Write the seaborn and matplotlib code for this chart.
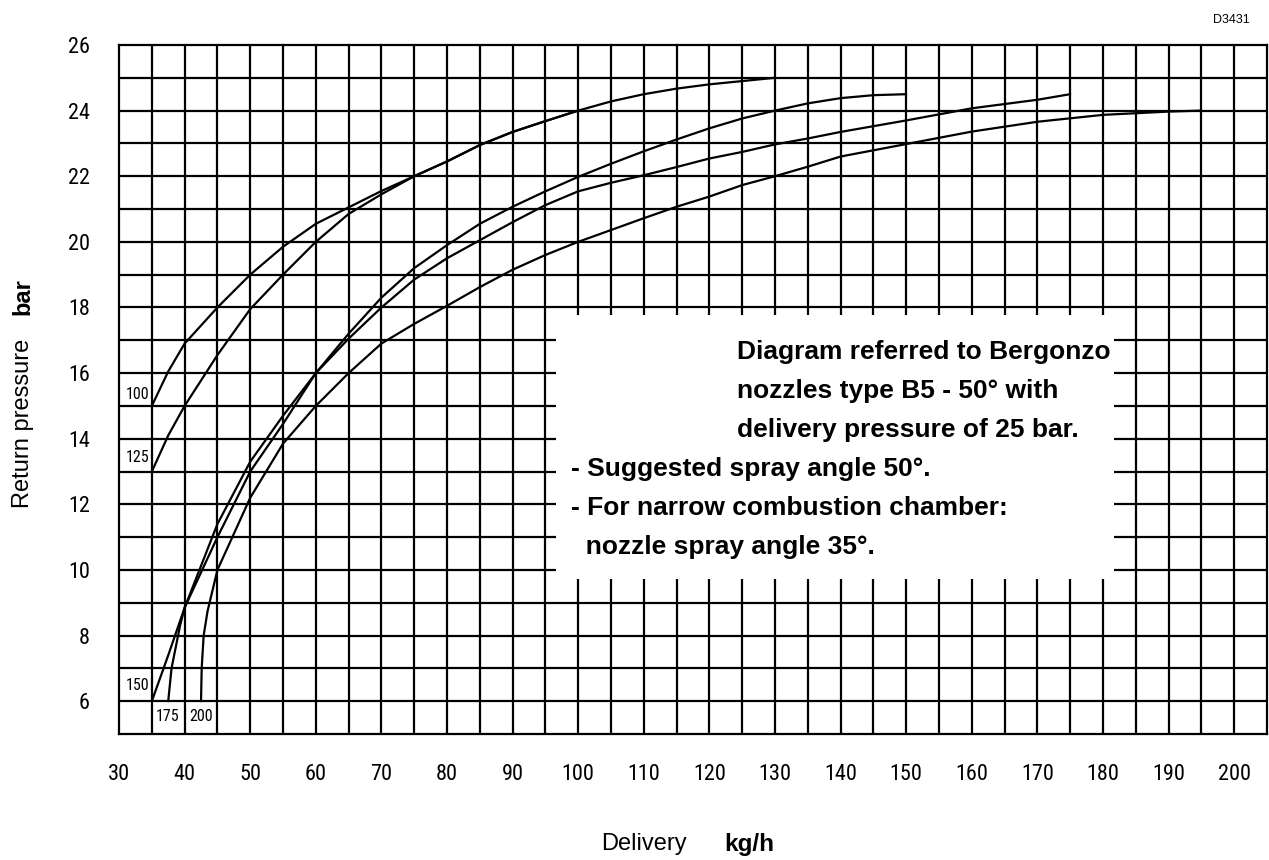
import numpy as np
import pandas as pd
import matplotlib
matplotlib.use("Agg")
import matplotlib.pyplot as plt
import seaborn as sns
from matplotlib import font_manager
from matplotlib.patches import Rectangle

# curve data (delivery kg/h -> return pressure bar)
x100 = [35, 37.5, 40, 45, 50, 55, 60, 65, 70, 75, 80, 85, 90, 95, 100]
y100 = [15.0, 16.05, 16.9, 18.0, 19.0, 19.85, 20.55, 21.05, 21.55, 22.0, 22.45, 22.95, 23.35, 23.68, 24.0]

x125 = [35, 37.5, 40, 45, 50, 55, 60, 65, 70, 75, 80, 85, 90, 95, 100, 105, 110, 115, 120, 125, 130]
y125 = [13.0, 14.1, 15.0, 16.55, 17.95, 19.0, 20.0, 20.85, 21.45, 22.0, 22.45, 22.95, 23.35, 23.68, 24.0,
        24.28, 24.5, 24.67, 24.8, 24.9, 25.0]

x150 = [35, 37.5, 40, 45, 50, 55, 60, 65, 70, 75, 80, 85, 90, 95, 100, 105, 110, 115, 120, 125,
        130, 135, 140, 145, 150]
y150 = [6.0, 7.4, 8.85, 11.0, 13.0, 14.45, 16.0, 17.2, 18.3, 19.2, 19.9, 20.55, 21.07, 21.54, 21.98,
        22.38, 22.76, 23.12, 23.46, 23.76, 24.0, 24.22, 24.38, 24.47, 24.5]

x175 = [37.5, 38.0, 39.3, 40, 45, 50, 55, 60, 65, 70, 75, 80, 85, 90, 95, 100, 105, 110, 115, 120,
        125, 130, 135, 140, 150, 160, 170, 175]
y175 = [6.0, 7.0, 8.3, 8.85, 11.4, 13.3, 14.7, 16.0, 17.05, 18.0, 18.85, 19.5, 20.05, 20.6, 21.12,
        21.54, 21.8, 22.03, 22.28, 22.54, 22.74, 22.97, 23.15, 23.35, 23.7, 24.07, 24.33, 24.5]

x200 = [42.5, 42.6, 42.9, 43.5, 45, 47.5, 50, 55, 60, 65, 70, 75, 80, 85, 90, 95, 100, 105, 110,
        115, 120, 125, 130, 135, 140, 150, 160, 170, 180, 190, 195]
y200 = [6.0, 7.0, 8.0, 8.75, 10.0, 11.1, 12.2, 13.85, 15.0, 16.0, 16.9, 17.5, 18.05, 18.62, 19.15,
        19.6, 20.0, 20.36, 20.72, 21.07, 21.38, 21.73, 22.0, 22.29, 22.6, 22.98, 23.36, 23.66, 23.87,
        23.97, 24.0]

nozzles = ["100", "125", "150", "175", "200"]
xticks = list(range(30, 201, 10))
yticks = list(range(6, 27, 2))

note_lines = [
    "Diagram referred to Bergonzo",
    "nozzles type B5 - 50° with",
    "delivery pressure of 25 bar.",
    "- Suggested spray angle 50°.",
    "- For narrow combustion chamber:",
    "  nozzle spray angle 35°.",
]

curves = {"100": (x100, y100), "125": (x125, y125), "150": (x150, y150),
          "175": (x175, y175), "200": (x200, y200)}
df = pd.concat([pd.DataFrame({"delivery": cx, "pressure": cy, "nozzle": n})
                for n, (cx, cy) in curves.items()], ignore_index=True)

sns.set_style("white")
avail = {f.name for f in font_manager.fontManager.ttflist}
NARROW = "Liberation Sans"
TICK_FS = 13.5
for cand in ["Liberation Sans Narrow", "Roboto Condensed", "Open Sans Condensed",
             "DejaVu Sans Condensed", "Noto Sans Condensed"]:
    if cand in avail:
        NARROW = cand
        TICK_FS = 16
        break
plt.rcParams["font.family"] = ["Liberation Sans", "DejaVu Sans"]
plt.rcParams["text.color"] = "black"
plt.rcParams["axes.labelcolor"] = "black"

fig = plt.figure(figsize=(12.69, 8.60), dpi=100)
ax = fig.add_axes([0.0938, 0.1465, 0.9046, 0.8012])

# grid every 5 kg/h and every 1 bar
LW = 1.6
ax.vlines(np.arange(35, 205, 5), 5, 26, color="black", lw=LW, zorder=1)
ax.hlines(np.arange(6, 26, 1), 30, 205, color="black", lw=LW, zorder=1)

# white panel with the note
ax.add_patch(Rectangle((96.6, 9.71), 181.7 - 96.6, 17.78 - 9.71, facecolor="white",
                       edgecolor="none", zorder=2))

sns.lineplot(data=df, x="delivery", y="pressure", hue="nozzle", palette=["black"] * 5,
             legend=False, sort=False, estimator=None, lw=LW, ax=ax, zorder=3)

ax.set_xlim(30, 205)
ax.set_ylim(5, 26)
for s in ax.spines.values():
    s.set_visible(True)
    s.set_color("black")
    s.set_linewidth(LW)

ax.set_xticks(xticks)
ax.set_yticks(yticks)
ax.set_xticklabels([str(t) for t in xticks], fontfamily=NARROW, fontsize=TICK_FS)
ax.set_yticklabels([str(t) for t in yticks], fontfamily=NARROW, fontsize=TICK_FS)
ax.tick_params(axis="x", direction="out", length=8.6, width=LW, pad=13, colors="black")
ax.tick_params(axis="y", direction="out", length=10, width=LW, pad=11, colors="black")
ax.set_xlabel("")
ax.set_ylabel("")

# nozzle size labels
lab_kw = dict(va="baseline", fontfamily=NARROW, fontsize=11.5, color="black", zorder=4)
ax.text(34.6, 15.22, "100", ha="right", **lab_kw)
ax.text(34.7, 13.3, "125", ha="right", **lab_kw)
ax.text(34.6, 6.34, "150", ha="right", **lab_kw)
ax.text(37.4, 5.39, "175", ha="center", **lab_kw)
ax.text(42.55, 5.39, "200", ha="center", **lab_kw)

# note text
note_x = [124.2, 124.2, 124.2, 98.9, 98.9, 98.9]
note_y = [16.44, 15.24, 14.06, 12.87, 11.69, 10.5]
for tx, ty, s in zip(note_x, note_y, note_lines):
    ax.text(tx, ty, s, ha="left", va="baseline", fontsize=19, fontweight="bold",
            color="black", zorder=4)

# axis titles
fig.text(0.0181, 0.5076, "Return pressure", rotation=90, ha="center", va="center", fontsize=17)
fig.text(0.0181, 0.6547, "bar", rotation=90, ha="center", va="center", fontsize=17, fontweight="bold")
fig.text(0.5071, 0.0186, "Delivery", ha="center", va="center", fontsize=17)
fig.text(0.5902, 0.0186, "kg/h", ha="center", va="center", fontsize=17.5, fontweight="bold")
fig.text(0.985, 0.977, "D3431", ha="right", va="center", fontsize=9)

fig.savefig("out.png", dpi=100)
